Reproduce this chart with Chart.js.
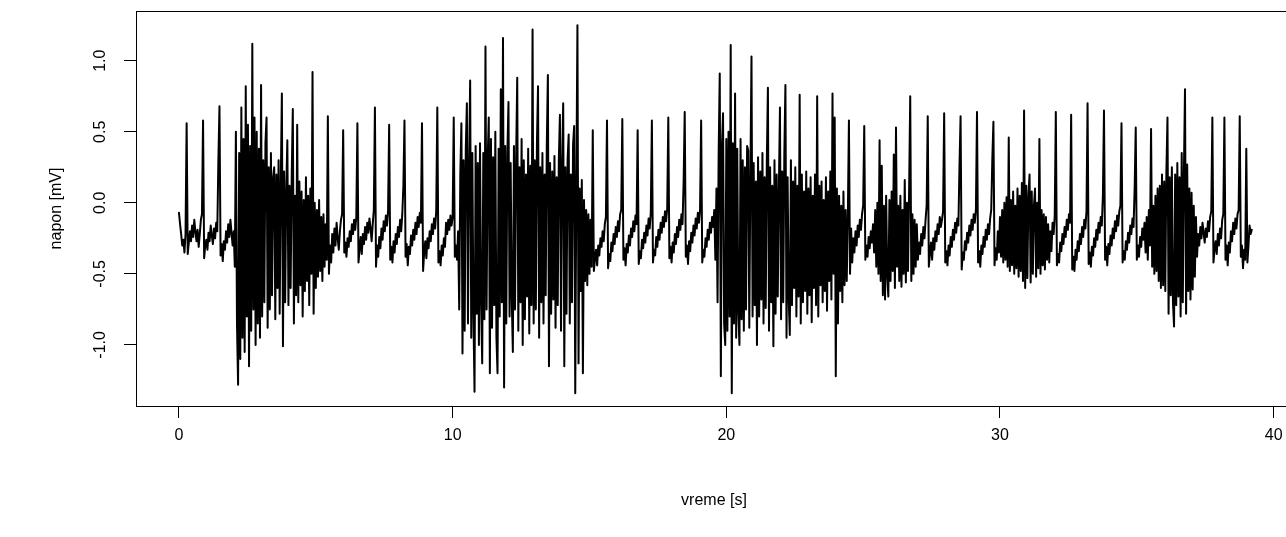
<!DOCTYPE html>
<html>
<head>
<meta charset="utf-8">
<script src="https://cdn.jsdelivr.net/npm/chart.js@4.4.1/dist/chart.umd.min.js"></script>
<style>
  html, body { margin: 0; padding: 0; background: #fff; overflow: hidden; }
  #wrap { width: 1286px; height: 537px; overflow: hidden; }
</style>
</head>
<body>
<div id="wrap"><canvas id="ekg" width="1300" height="537"></canvas></div>
<script>
/* napon vs vreme trace (one row = one second) */

const SAMPLE_RATE = 25; // samples per second
const X_TICKS = [0, 10, 20, 30, 40];
const Y_TICKS = [-1.0, -0.5, 0.0, 0.5, 1.0];
const X_LABEL = "vreme [s]";
const Y_LABEL = "napon [mV]";

const VOLTAGE = [
  -0.07,-0.15,-0.22,-0.30,-0.26,-0.35,-0.22,0.56,-0.36,-0.28,-0.20,-0.27,-0.16,-0.24,-0.12,-0.20,-0.27,-0.19,-0.31,-0.22,-0.12,-0.08,0.58,-0.39,-0.30,
  -0.26,-0.33,-0.21,-0.27,-0.16,-0.23,-0.29,-0.18,-0.25,-0.14,-0.20,0.30,0.68,-0.37,-0.29,-0.41,-0.27,-0.33,-0.20,-0.28,-0.15,-0.24,-0.12,-0.21,-0.30,
  -0.20,-0.45,0.50,-0.85,-1.28,0.35,-1.10,0.67,-0.95,0.45,-1.05,0.82,-0.80,0.55,-1.15,0.40,-0.90,1.12,-0.75,0.60,-1.00,0.50,-0.85,0.38,-0.95,
  0.83,-0.80,0.30,-0.70,0.42,0.60,-0.88,0.25,-0.75,0.35,-0.65,0.18,0.25,-0.82,0.20,-0.60,0.30,-0.78,0.15,0.77,-1.01,0.22,-0.70,0.10,0.44,
  -0.72,0.12,-0.60,0.20,0.66,-0.85,0.05,-0.65,0.55,-0.70,0.15,-0.58,0.08,-0.80,0.02,-0.62,0.18,-0.55,0.05,-0.72,0.10,-0.50,0.92,-0.78,0.00,
  -0.60,-0.05,-0.52,0.02,-0.48,-0.10,-0.55,-0.08,-0.45,-0.15,-0.40,0.61,-0.50,-0.30,-0.42,-0.22,-0.35,-0.18,-0.30,-0.14,-0.25,-0.33,-0.20,-0.12,-0.08,
  0.51,-0.35,-0.28,-0.38,-0.25,-0.31,-0.20,-0.27,-0.15,-0.22,-0.12,-0.19,-0.10,0.56,-0.42,-0.33,-0.24,-0.36,-0.22,-0.29,-0.17,-0.26,-0.14,-0.21,-0.11,
  -0.18,-0.27,-0.15,-0.05,0.67,-0.45,-0.30,-0.38,-0.24,-0.32,-0.18,-0.26,-0.13,-0.20,-0.09,-0.16,-0.06,0.55,-0.40,-0.31,-0.42,-0.27,-0.35,-0.22,-0.29,
  -0.17,-0.24,-0.12,-0.20,-0.08,0.12,0.58,-0.38,-0.29,-0.44,-0.31,-0.36,-0.23,-0.30,-0.19,-0.26,-0.14,-0.22,-0.10,-0.17,-0.07,-0.14,0.56,-0.48,-0.35,
  -0.27,-0.39,-0.25,-0.32,-0.20,-0.27,-0.15,-0.22,-0.11,-0.18,-0.06,0.67,-0.42,-0.34,-0.44,-0.30,-0.37,-0.25,-0.31,-0.14,-0.22,-0.12,-0.19,-0.09,-0.16,
  -0.10,0.60,-0.38,-0.30,-0.40,-0.20,-0.75,0.20,0.56,-1.06,0.30,-0.90,0.38,0.70,-0.85,0.25,0.86,-0.95,0.35,-0.80,-1.33,0.40,-0.78,0.28,-1.00,
  0.42,-0.70,-1.13,0.35,-0.82,1.10,-0.75,0.30,0.60,-1.20,0.45,-0.88,0.32,-0.72,0.50,-0.95,-1.20,0.38,-0.80,0.80,-0.70,1.16,-1.30,0.40,-0.85,
  0.35,0.71,-0.80,0.28,-0.68,-1.05,0.40,-0.75,0.32,0.88,-0.90,0.25,-0.70,0.45,-1.00,0.30,-0.82,0.20,-0.66,0.38,-0.92,0.26,-0.72,1.22,-0.85,
  0.30,-0.75,0.42,0.82,-0.95,0.25,-0.70,0.35,-0.85,0.20,-0.65,0.40,0.90,-1.15,0.28,-0.78,0.22,-0.68,0.33,-0.88,0.18,-0.72,0.30,0.62,-0.90,
  0.28,0.70,-1.15,0.25,-0.78,0.30,0.48,-0.85,0.20,-0.70,0.41,0.54,-1.34,0.15,1.25,-1.13,0.10,-0.62,0.16,-1.20,0.02,-0.55,-0.05,-0.58,-0.08,
  -0.50,-0.12,-0.45,0.51,-0.48,-0.40,-0.33,-0.44,-0.30,-0.37,-0.25,-0.31,-0.20,-0.27,-0.15,-0.10,0.58,-0.46,-0.36,-0.41,-0.28,-0.34,-0.22,-0.29,-0.17,
  -0.24,-0.13,-0.20,-0.08,-0.05,0.59,-0.40,-0.32,-0.44,-0.29,-0.35,-0.23,-0.30,-0.18,-0.24,-0.13,-0.20,-0.09,-0.15,0.51,-0.43,-0.34,-0.39,-0.26,-0.32,
  -0.21,-0.28,-0.16,-0.23,-0.11,-0.18,-0.07,0.58,-0.42,-0.33,-0.37,-0.24,-0.31,-0.19,-0.26,-0.14,-0.21,-0.10,-0.17,-0.06,-0.13,-0.04,0.60,-0.39,-0.31,
  -0.42,-0.28,-0.35,-0.22,-0.29,-0.17,-0.24,-0.12,-0.19,-0.08,-0.15,0.15,0.64,-0.38,-0.30,-0.43,-0.27,-0.34,-0.21,-0.28,-0.16,-0.23,-0.11,-0.18,-0.07,
  -0.14,-0.05,0.58,-0.42,-0.33,-0.38,-0.25,-0.31,-0.19,-0.26,-0.14,-0.21,-0.10,-0.17,-0.05,-0.40,0.10,-0.70,0.35,0.91,-1.22,0.40,0.63,-0.85,-1.00,
  0.45,-0.90,0.50,-0.80,1.11,-1.34,0.42,-0.85,0.77,-0.95,0.38,-0.78,-1.00,0.45,-0.82,0.30,-0.90,0.25,-0.75,0.40,0.37,-0.88,0.20,1.03,-0.80,
  0.28,-0.72,0.15,-1.00,0.32,-0.80,0.22,-0.68,0.35,-0.85,0.18,-0.74,0.30,0.81,-0.90,0.25,-0.70,0.12,-1.01,0.30,-0.78,0.20,-0.66,0.10,0.67,
  -0.82,0.22,-0.70,0.35,0.83,-0.95,0.18,-0.68,-0.93,0.30,-0.72,0.15,-0.60,0.25,-0.80,0.12,-0.66,0.76,-0.85,0.20,-0.70,0.08,-0.62,0.22,-0.78,
  0.10,-0.65,0.18,-0.84,0.05,-0.60,0.20,-0.72,0.75,-0.80,0.12,-0.58,0.15,-0.70,0.02,-0.62,0.18,-0.76,0.08,-0.55,0.22,-0.68,0.77,-0.50,0.60,
  -1.22,0.10,-0.85,0.05,-0.62,-0.02,-0.70,0.08,-0.58,-0.05,-0.55,-0.10,0.58,-0.50,-0.18,-0.42,-0.25,-0.35,-0.20,-0.30,-0.16,-0.24,-0.12,-0.19,-0.08,
  -0.02,0.54,-0.40,-0.30,-0.38,-0.24,-0.32,-0.20,-0.28,-0.15,-0.35,-0.05,-0.45,0.00,-0.50,0.44,-0.55,0.26,-0.65,-0.02,-0.68,0.05,-0.52,-0.66,0.02,
  -0.55,0.08,-0.48,0.34,-0.60,0.53,-0.45,-0.02,-0.55,0.05,-0.59,-0.05,-0.50,0.16,-0.56,0.00,-0.48,0.10,0.75,-0.55,-0.08,-0.50,-0.12,-0.45,-0.15,
  -0.40,-0.28,-0.36,-0.22,-0.30,-0.17,-0.25,-0.12,-0.02,0.61,-0.45,-0.36,-0.28,-0.40,-0.25,-0.33,-0.20,-0.27,-0.15,-0.22,-0.10,-0.17,-0.12,-0.06,0.63,
  -0.42,-0.34,-0.44,-0.30,-0.37,-0.24,-0.31,-0.19,-0.26,-0.14,-0.21,-0.11,-0.16,0.26,0.61,-0.47,-0.35,-0.40,-0.27,-0.33,-0.21,-0.28,-0.16,-0.23,-0.12,
  -0.19,-0.08,-0.14,-0.05,0.64,-0.42,-0.34,-0.45,-0.30,-0.36,-0.24,-0.31,-0.19,-0.26,-0.15,-0.22,-0.11,-0.05,0.31,0.57,-0.44,-0.32,-0.40,-0.20,-0.35,
  -0.10,-0.38,-0.05,-0.42,0.00,-0.40,0.04,-0.45,0.46,-0.48,0.02,-0.44,0.08,-0.50,-0.02,-0.46,0.10,-0.52,0.05,-0.48,0.14,-0.55,0.65,-0.60,0.12,
  -0.53,0.05,0.20,-0.56,0.08,-0.50,-0.02,0.10,-0.52,0.00,-0.46,0.45,-0.50,-0.05,-0.44,-0.08,-0.47,-0.10,-0.40,-0.15,-0.42,-0.20,-0.34,-0.14,-0.22,
  -0.09,0.64,-0.44,-0.36,-0.42,-0.28,-0.34,-0.22,-0.29,-0.17,-0.24,-0.12,-0.19,-0.08,-0.14,0.62,-0.47,-0.38,-0.48,-0.33,-0.40,-0.27,-0.34,-0.22,-0.29,
  -0.17,-0.24,-0.12,-0.18,-0.06,0.70,-0.43,-0.35,-0.45,-0.31,-0.37,-0.25,-0.31,-0.19,-0.26,-0.14,-0.21,-0.10,-0.16,0.05,0.65,-0.40,-0.31,-0.44,-0.29,
  -0.36,-0.23,-0.30,-0.18,-0.25,-0.13,-0.20,-0.09,-0.16,-0.06,-0.02,0.56,-0.42,-0.34,-0.40,-0.27,-0.33,-0.21,-0.28,-0.16,-0.22,-0.11,-0.17,0.10,0.53,
  -0.40,-0.30,-0.38,-0.24,-0.31,-0.18,-0.26,-0.14,-0.35,-0.10,-0.40,-0.05,-0.30,0.52,-0.45,-0.02,-0.50,0.05,-0.48,0.10,-0.55,0.12,-0.60,0.20,-0.58,
  0.15,-0.62,0.22,0.60,-0.78,0.18,-0.65,0.25,-0.70,-0.87,0.20,-0.72,0.28,-0.66,0.18,-0.80,0.35,-0.70,0.22,0.80,-0.78,0.27,-0.62,0.10,-0.68,
  0.07,-0.61,-0.02,-0.52,-0.10,-0.38,-0.22,-0.30,-0.17,-0.25,-0.14,-0.21,-0.28,-0.18,-0.24,-0.13,-0.20,-0.10,-0.06,0.60,-0.42,-0.33,-0.27,-0.36,-0.22,
  -0.30,-0.18,-0.25,-0.12,-0.08,0.60,-0.40,-0.30,-0.44,-0.28,-0.35,-0.20,-0.27,-0.14,-0.22,-0.11,-0.18,-0.08,-0.05,0.61,-0.38,-0.30,-0.46,-0.33,-0.40,
  0.38,-0.42,-0.30,-0.16,-0.22,-0.19,
];

const FONT = "Arial, 'Liberation Sans', Helvetica, sans-serif";

// R-style full box around the plotting region
const boxPlugin = {
  id: "rbox",
  afterDraw(chart) {
    const { ctx, chartArea: a } = chart;
    ctx.save();
    ctx.strokeStyle = "#000";
    ctx.lineWidth = 1;
    ctx.strokeRect(Math.round(a.left) + 0.5, Math.round(a.top) + 0.5,
      Math.round(a.right - a.left), Math.round(a.bottom - a.top));
    ctx.restore();
  },
};

// y tick labels rotated like R's las=0
const yLabelsPlugin = {
  id: "ylabels",
  afterDraw(chart) {
    const { ctx } = chart;
    const y = chart.scales.y;
    ctx.save();
    ctx.fillStyle = "#000";
    ctx.font = "16px " + FONT;
    ctx.textAlign = "center";
    ctx.textBaseline = "middle";
    Y_TICKS.forEach((v) => {
      ctx.save();
      ctx.translate(101, y.getPixelForValue(v));
      ctx.rotate(-Math.PI / 2);
      ctx.fillText(v.toFixed(1), 0, 0);
      ctx.restore();
    });
    ctx.restore();
  },
};

function init() {
  const points = VOLTAGE.map((v, i) => ({ x: i / SAMPLE_RATE, y: v }));

  new Chart(document.getElementById("ekg"), {
    type: "line",
    data: {
      datasets: [
        {
          data: points,
          borderColor: "#000",
          borderWidth: 2,
          borderJoinStyle: "round",
          borderCapStyle: "round",
          pointRadius: 0,
          tension: 0,
          fill: false,
        },
      ],
    },
    options: {
      responsive: false,
      animation: false,
      devicePixelRatio: 1,
      layout: { padding: { left: 0, top: 11, right: 8, bottom: 0 } },
      plugins: { legend: { display: false }, tooltip: { enabled: false } },
      scales: {
        x: {
          type: "linear",
          min: -1.57,
          max: 40.67,
          afterFit: (s) => { s.height = 131; },
          afterBuildTicks: (s) => { s.ticks = X_TICKS.map((v) => ({ value: v })); },
          grid: { drawOnChartArea: false, tickLength: 12, color: "#000", lineWidth: 1 },
          border: { display: false },
          ticks: { color: "#000", font: { family: FONT, size: 16 }, padding: 8, maxRotation: 0 },
          title: {
            display: true,
            text: X_LABEL,
            color: "#000",
            font: { family: FONT, size: 16 },
            padding: { top: 0, bottom: 27 },
          },
        },
        y: {
          type: "linear",
          min: -1.43,
          max: 1.35,
          afterFit: (s) => { s.width = 136; },
          afterBuildTicks: (s) => { s.ticks = Y_TICKS.map((v) => ({ value: v })); },
          grid: { drawOnChartArea: false, tickLength: 12, color: "#000", lineWidth: 1 },
          border: { display: false },
          ticks: { display: false },
          title: {
            display: true,
            text: Y_LABEL,
            color: "#000",
            font: { family: FONT, size: 16 },
            padding: { top: 47, bottom: 0 },
          },
        },
      },
    },
    plugins: [boxPlugin, yLabelsPlugin],
  });
}

init();
</script>
</body>
</html>
